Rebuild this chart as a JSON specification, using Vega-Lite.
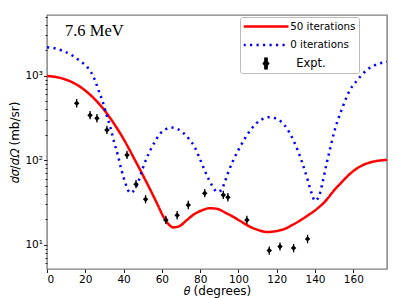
{
  "$schema": "https://vega.github.io/schema/vega-lite/v6.json",
  "width": 340,
  "height": 254,
  "autosize": {"type": "none"},
  "padding": {"left": 47, "top": 15, "right": 11, "bottom": 29},
  "background": "white",
  "config": {
    "view": {"stroke": "#7f7f7f", "strokeWidth": 1.4},
    "axis": {
      "labelFont": "DejaVu Sans", "titleFont": "DejaVu Sans",
      "labelColor": "#000", "titleColor": "#000", "tickColor": "#222",
      "grid": false, "domain": false,
      "labelFontSize": 10.5, "titleFontSize": 12, "titleFontWeight": "normal",
      "tickSize": 3.5, "tickWidth": 1
    }
  },
  "datasets": {
    "curves": [
      {"series": "50 iterations", "theta": 0, "xs": 990},
      {"series": "50 iterations", "theta": 5, "xs": 960},
      {"series": "50 iterations", "theta": 10, "xs": 895},
      {"series": "50 iterations", "theta": 15, "xs": 795},
      {"series": "50 iterations", "theta": 20, "xs": 665},
      {"series": "50 iterations", "theta": 25, "xs": 525},
      {"series": "50 iterations", "theta": 30, "xs": 390},
      {"series": "50 iterations", "theta": 35, "xs": 270},
      {"series": "50 iterations", "theta": 40, "xs": 178},
      {"series": "50 iterations", "theta": 45, "xs": 110},
      {"series": "50 iterations", "theta": 50, "xs": 67},
      {"series": "50 iterations", "theta": 55, "xs": 40},
      {"series": "50 iterations", "theta": 58, "xs": 29},
      {"series": "50 iterations", "theta": 61, "xs": 21},
      {"series": "50 iterations", "theta": 64, "xs": 17},
      {"series": "50 iterations", "theta": 66, "xs": 16},
      {"series": "50 iterations", "theta": 69, "xs": 16.5},
      {"series": "50 iterations", "theta": 73, "xs": 19.5},
      {"series": "50 iterations", "theta": 77, "xs": 23},
      {"series": "50 iterations", "theta": 81, "xs": 25.5},
      {"series": "50 iterations", "theta": 85, "xs": 27},
      {"series": "50 iterations", "theta": 89, "xs": 26.5},
      {"series": "50 iterations", "theta": 93, "xs": 24},
      {"series": "50 iterations", "theta": 97, "xs": 21.5},
      {"series": "50 iterations", "theta": 101, "xs": 19},
      {"series": "50 iterations", "theta": 106, "xs": 16.3},
      {"series": "50 iterations", "theta": 110, "xs": 15},
      {"series": "50 iterations", "theta": 115, "xs": 14.1},
      {"series": "50 iterations", "theta": 120, "xs": 14.5},
      {"series": "50 iterations", "theta": 124, "xs": 15.3},
      {"series": "50 iterations", "theta": 128, "xs": 17},
      {"series": "50 iterations", "theta": 132, "xs": 19.2},
      {"series": "50 iterations", "theta": 136, "xs": 22},
      {"series": "50 iterations", "theta": 141, "xs": 26.5},
      {"series": "50 iterations", "theta": 145, "xs": 32},
      {"series": "50 iterations", "theta": 150, "xs": 44},
      {"series": "50 iterations", "theta": 154, "xs": 55},
      {"series": "50 iterations", "theta": 158, "xs": 68},
      {"series": "50 iterations", "theta": 162, "xs": 80},
      {"series": "50 iterations", "theta": 166, "xs": 89.5},
      {"series": "50 iterations", "theta": 170, "xs": 95.5},
      {"series": "50 iterations", "theta": 174, "xs": 99},
      {"series": "50 iterations", "theta": 177.6, "xs": 100.5},
      {"series": "0 iterations", "theta": 0, "xs": 2170},
      {"series": "0 iterations", "theta": 4, "xs": 2110},
      {"series": "0 iterations", "theta": 8, "xs": 1970},
      {"series": "0 iterations", "theta": 12, "xs": 1800},
      {"series": "0 iterations", "theta": 16, "xs": 1560},
      {"series": "0 iterations", "theta": 20, "xs": 1330},
      {"series": "0 iterations", "theta": 23, "xs": 1100},
      {"series": "0 iterations", "theta": 25, "xs": 890},
      {"series": "0 iterations", "theta": 27, "xs": 660},
      {"series": "0 iterations", "theta": 29, "xs": 500},
      {"series": "0 iterations", "theta": 31, "xs": 350},
      {"series": "0 iterations", "theta": 33, "xs": 250},
      {"series": "0 iterations", "theta": 35, "xs": 165},
      {"series": "0 iterations", "theta": 37, "xs": 115},
      {"series": "0 iterations", "theta": 39, "xs": 75},
      {"series": "0 iterations", "theta": 41, "xs": 53},
      {"series": "0 iterations", "theta": 43.5, "xs": 41},
      {"series": "0 iterations", "theta": 46, "xs": 46},
      {"series": "0 iterations", "theta": 48, "xs": 58},
      {"series": "0 iterations", "theta": 50, "xs": 80},
      {"series": "0 iterations", "theta": 53, "xs": 118},
      {"series": "0 iterations", "theta": 56, "xs": 160},
      {"series": "0 iterations", "theta": 59, "xs": 205},
      {"series": "0 iterations", "theta": 62, "xs": 232},
      {"series": "0 iterations", "theta": 65, "xs": 243},
      {"series": "0 iterations", "theta": 68, "xs": 235},
      {"series": "0 iterations", "theta": 71, "xs": 212},
      {"series": "0 iterations", "theta": 74, "xs": 180},
      {"series": "0 iterations", "theta": 77, "xs": 145},
      {"series": "0 iterations", "theta": 80, "xs": 102},
      {"series": "0 iterations", "theta": 83, "xs": 70},
      {"series": "0 iterations", "theta": 86, "xs": 51},
      {"series": "0 iterations", "theta": 89, "xs": 42},
      {"series": "0 iterations", "theta": 91, "xs": 44},
      {"series": "0 iterations", "theta": 93, "xs": 56},
      {"series": "0 iterations", "theta": 95, "xs": 75},
      {"series": "0 iterations", "theta": 97.5, "xs": 102},
      {"series": "0 iterations", "theta": 100, "xs": 132},
      {"series": "0 iterations", "theta": 103, "xs": 175},
      {"series": "0 iterations", "theta": 106, "xs": 222},
      {"series": "0 iterations", "theta": 109, "xs": 268},
      {"series": "0 iterations", "theta": 112, "xs": 302},
      {"series": "0 iterations", "theta": 116, "xs": 322},
      {"series": "0 iterations", "theta": 120, "xs": 308},
      {"series": "0 iterations", "theta": 124, "xs": 260},
      {"series": "0 iterations", "theta": 127, "xs": 205},
      {"series": "0 iterations", "theta": 130, "xs": 148},
      {"series": "0 iterations", "theta": 133, "xs": 98},
      {"series": "0 iterations", "theta": 136, "xs": 60},
      {"series": "0 iterations", "theta": 138, "xs": 42},
      {"series": "0 iterations", "theta": 140, "xs": 33},
      {"series": "0 iterations", "theta": 142, "xs": 37},
      {"series": "0 iterations", "theta": 144, "xs": 55},
      {"series": "0 iterations", "theta": 146, "xs": 90},
      {"series": "0 iterations", "theta": 148, "xs": 140},
      {"series": "0 iterations", "theta": 150, "xs": 215},
      {"series": "0 iterations", "theta": 154, "xs": 400},
      {"series": "0 iterations", "theta": 158, "xs": 660},
      {"series": "0 iterations", "theta": 162, "xs": 880},
      {"series": "0 iterations", "theta": 167, "xs": 1160},
      {"series": "0 iterations", "theta": 172, "xs": 1350},
      {"series": "0 iterations", "theta": 177.6, "xs": 1465}
    ],
    "expt": [
      {"series": "Expt.", "theta": 15.5, "xs": 471, "lo": 420, "hi": 528},
      {"series": "Expt.", "theta": 22.5, "xs": 340, "lo": 304, "hi": 381},
      {"series": "Expt.", "theta": 26.1, "xs": 313, "lo": 279, "hi": 351},
      {"series": "Expt.", "theta": 31.3, "xs": 228, "lo": 204, "hi": 255},
      {"series": "Expt.", "theta": 41.8, "xs": 115, "lo": 103, "hi": 129},
      {"series": "Expt.", "theta": 46.5, "xs": 52, "lo": 46.4, "hi": 58.2},
      {"series": "Expt.", "theta": 51.5, "xs": 34.5, "lo": 30.8, "hi": 38.6},
      {"series": "Expt.", "theta": 62.1, "xs": 19.6, "lo": 17.5, "hi": 22},
      {"series": "Expt.", "theta": 68.0, "xs": 22.3, "lo": 19.9, "hi": 25},
      {"series": "Expt.", "theta": 73.8, "xs": 29.5, "lo": 26.3, "hi": 33},
      {"series": "Expt.", "theta": 82.4, "xs": 40.6, "lo": 36.3, "hi": 45.5},
      {"series": "Expt.", "theta": 92.1, "xs": 38.7, "lo": 34.6, "hi": 43.3},
      {"series": "Expt.", "theta": 94.5, "xs": 36.4, "lo": 32.5, "hi": 40.8},
      {"series": "Expt.", "theta": 104.4, "xs": 19.6, "lo": 17.5, "hi": 22},
      {"series": "Expt.", "theta": 116.1, "xs": 8.5, "lo": 7.6, "hi": 9.5},
      {"series": "Expt.", "theta": 121.7, "xs": 9.5, "lo": 8.5, "hi": 10.6},
      {"series": "Expt.", "theta": 128.8, "xs": 9.1, "lo": 8.1, "hi": 10.2},
      {"series": "Expt.", "theta": 136.1, "xs": 11.7, "lo": 10.4, "hi": 13.1}
    ],
    "label": [{"theta": 9.4, "xs": 2970, "text": "7.6 MeV"}]
  },
  "layer": [
    {
      "data": {"name": "curves"},
      "mark": {"type": "line", "interpolate": "monotone", "strokeWidth": 2.5, "clip": true},
      "encoding": {
        "x": {
          "field": "theta", "type": "quantitative",
          "scale": {"domain": [0, 177.6], "nice": false, "zero": false},
          "axis": {"values": [0, 20, 40, 60, 80, 100, 120, 140, 160], "title": "𝜃 (degrees)", "labelPadding": 2, "titlePadding": 0}
        },
        "y": {
          "field": "xs", "type": "quantitative",
          "scale": {"type": "log", "domain": [5.15, 5220], "nice": false},
          "axis": {
            "values": [10, 100, 1000],
            "labelExpr": "datum.value === 10 ? '10¹' : datum.value === 100 ? '10²' : datum.value === 1000 ? '10³' : ''",
            "title": "𝑑𝜎/𝑑𝛺 (mb/sr)", "labelPadding": 1, "titlePadding": 3
          }
        },
        "color": {
          "field": "series", "type": "nominal",
          "scale": {"domain": ["50 iterations", "0 iterations", "Expt."], "range": ["#ff0000", "#0000ff", "#000000"]},
          "legend": {
            "title": null, "orient": "none", "legendX": 193, "legendY": 2,
            "padding": 3.5, "strokeColor": "#bbbbbb", "fillColor": "white", "cornerRadius": 2,
            "symbolSize": 2025, "symbolStrokeWidth": 2.5, "clipHeight": 12, "rowPadding": 6.5, "labelOffset": 0.2, "symbolOffset": -1.5,
            "labelFont": "DejaVu Sans", "labelFontSize": 10.3, "labelColor": "#000",
            "encode": {
              "symbols": {
                "update": {
                  "shape": {"signal": "datum.value === 'Expt.' ? 'M0,-0.115L0.09,0L0,0.115L-0.09,0Z M-0.027,-0.27H0.027V0.27H-0.027Z' : 'stroke'"},
                  "stroke": {"signal": "datum.value === '50 iterations' ? '#ff0000' : datum.value === '0 iterations' ? '#0000ff' : 'transparent'"},
                  "fill": {"signal": "datum.value === 'Expt.' ? '#000000' : 'transparent'"},
                  "strokeDash": {"signal": "datum.value === '0 iterations' ? [2.2, 4.3] : [1, 0]"},
                  "opacity": {"value": 1}
                }
              },
              "labels": {
                "update": {
                  "dx": {"signal": "datum.value === 'Expt.' ? 6 : 0"},
                  "fontSize": {"signal": "datum.value === 'Expt.' ? 11.5 : 10.3"}
                }
              }
            }
          }
        },
        "strokeDash": {
          "field": "series", "type": "nominal",
          "scale": {"domain": ["50 iterations", "0 iterations"], "range": [[1, 0], [2.2, 4.3]]},
          "legend": null
        }
      }
    },
    {
      "data": {"name": "expt"},
      "mark": {"type": "rule", "strokeWidth": 1.3},
      "encoding": {
        "x": {"field": "theta", "type": "quantitative"},
        "y": {
          "field": "lo", "type": "quantitative",
          "axis": {
            "orient": "left",
            "values": [6, 7, 8, 9, 20, 30, 40, 50, 60, 70, 80, 90, 200, 300, 400, 500, 600, 700, 800, 900, 2000, 3000, 4000, 5000],
            "labels": false, "tickSize": 2, "title": null, "domain": false, "grid": false
          }
        },
        "y2": {"field": "hi"},
        "color": {"field": "series", "type": "nominal"}
      }
    },
    {
      "data": {"name": "expt"},
      "mark": {"type": "point", "shape": "diamond", "filled": true, "size": 30, "opacity": 1},
      "encoding": {
        "x": {"field": "theta", "type": "quantitative"},
        "y": {"field": "xs", "type": "quantitative", "axis": null},
        "color": {"field": "series", "type": "nominal"}
      }
    },
    {
      "data": {"name": "label"},
      "mark": {"type": "text", "font": "Liberation Serif", "fontSize": 16.5, "align": "left", "baseline": "alphabetic", "color": "#000"},
      "encoding": {
        "x": {"field": "theta", "type": "quantitative"},
        "y": {"field": "xs", "type": "quantitative", "axis": null},
        "text": {"field": "text"}
      }
    }
  ],
  "resolve": {"axis": {"y": "independent"}}
}
